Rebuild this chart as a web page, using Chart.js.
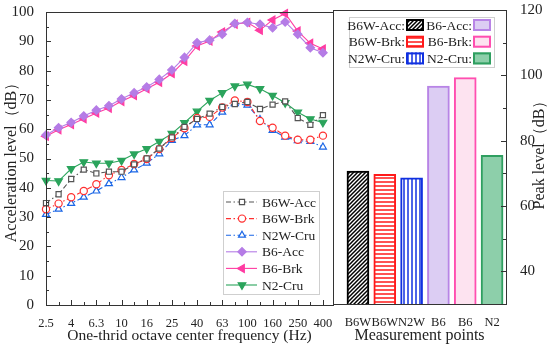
<!DOCTYPE html>
<html>
<head>
<meta charset="utf-8">
<script src="https://cdn.jsdelivr.net/npm/chart.js@4.4.1/dist/chart.umd.min.js"></script>
<style>
  html, body { margin: 0; padding: 0; background: #fff; }
  #wrap { position: relative; width: 550px; height: 345px; overflow: hidden; }
  #c1 { position: absolute; left: 0; top: 0; }
  #c2 { position: absolute; left: 330px; top: 0; }
</style>
</head>
<body>
<div id="wrap">
  <canvas id="c1" width="340" height="345"></canvas>
  <canvas id="c2" width="220" height="345"></canvas>
</div>
<script>
/* Terzband-Mittenfrequenzen (Hz) */
const freqLabels = ['2.5','3.15','4','5','6.3','8','10','12.5','16','20','25','31.5','40','50','63','80','100','125','160','200','250','315','400'];

/* Beschleunigungspegel in dB */
const b6wAcc = [34.8, 37.8, 43.0, 46.2, 44.9, 45.5, 45.5, 48.0, 50.0, 53.4, 57.2, 60.8, 63.5, 65.3, 67.6, 68.6, 69.3, 66.9, 68.4, 69.5, 63.8, 61.5, 64.8];
const b6wBrk = [32.7, 34.6, 36.8, 38.9, 41.2, 44.3, 46.1, 48.1, 49.8, 53.2, 57.0, 60.3, 63.8, 64.2, 67.4, 69.8, 69.3, 62.8, 60.5, 57.8, 56.4, 56.4, 57.8];
const n2wCru = [30.9, 32.7, 34.7, 36.8, 38.9, 41.4, 43.5, 46.1, 48.4, 51.6, 56.2, 57.8, 61.5, 61.5, 65.8, 68.7, 68.2, 63.3, 59.6, 57.3, 56.1, 55.8, 53.9];
const b6Acc  = [58.0, 60.5, 62.3, 64.5, 66.5, 68.0, 70.3, 72.4, 74.4, 77.0, 80.2, 84.5, 89.5, 90.4, 92.4, 96.1, 96.4, 95.8, 94.6, 96.6, 92.4, 87.8, 86.1];
const b6Brk  = [57.6, 59.8, 61.6, 63.6, 65.5, 67.2, 69.5, 71.5, 73.8, 76.0, 79.0, 83.2, 88.4, 90.1, 93.2, 95.8, 96.4, 93.8, 97.3, 99.5, 93.5, 89.3, 87.4];
const n2Cru  = [42.5, 42.3, 46.5, 48.8, 48.4, 48.4, 49.3, 51.5, 53.3, 55.8, 58.5, 62.2, 66.1, 69.8, 72.4, 74.7, 75.3, 73.8, 71.5, 69.0, 65.8, 63.5, 62.3];

/* Spitzenpegel je Messpunkt */
const peakLabels = ['B6W', 'B6W', 'N2W', 'B6', 'B6', 'N2'];
const peakNames  = ['B6W-Acc:', 'B6W-Brk:', 'N2W-Cru:', 'B6-Acc:', 'B6-Brk:', 'N2-Cru:'];
const peakValues = [70.7, 69.7, 68.6, 96.7, 99.3, 75.5];

const FONT = "'Liberation Serif', 'Times New Roman', serif";
const INK = '#222';

const toPts = arr => arr.map((v, i) => ({ x: i, y: v }));
const DASHDOT = [5, 2.5, 1.5, 2.5];

/* feste Achsbreite, ohne Zusatzrand für überstehende Beschriftungen */
const fixWidth = w => s => { s.width = w; s.paddingTop = 0; s.paddingBottom = 0; };

/* Rahmen + nach innen zeigende Ticks */
const innerTicks = {
  id: 'innerTicks',
  afterDraw(chart, args, opts) {
    const { ctx, chartArea: a } = chart;
    ctx.save();
    ctx.strokeStyle = '#333';
    ctx.lineWidth = 1;
    ctx.strokeRect(Math.round(a.left) + 0.5, Math.round(a.top) + 0.5, Math.round(a.right - a.left), Math.round(a.bottom - a.top));
    (opts.marks || []).forEach(m => {
      const sc = chart.scales[m.axis];
      for (let v = m.from; v <= m.to + 1e-9; v += m.step) {
        const major = Math.abs(((v - m.from) / m.major) - Math.round((v - m.from) / m.major)) < 1e-6;
        const len = major ? 5 : 3;
        const p = Math.round(sc.getPixelForValue(v)) + 0.5;
        ctx.beginPath();
        if (m.axis === 'x') { ctx.moveTo(p, a.bottom); ctx.lineTo(p, a.bottom - len); }
        else if (m.side === 'right') { ctx.moveTo(a.right, p); ctx.lineTo(a.right - len, p); }
        else { ctx.moveTo(a.left, p); ctx.lineTo(a.left + len, p); }
        ctx.stroke();
      }
    });
    ctx.restore();
  }
};

/* Legende links: Linie + Marker + Text */
const lineLegend = {
  id: 'lineLegend',
  afterDraw(chart, args, o) {
    if (!o.show) return;
    const ctx = chart.ctx;
    ctx.save();
    ctx.strokeStyle = '#cfcfcf';
    ctx.lineWidth = 1;
    ctx.strokeRect(o.x + 0.5, o.y + 0.5, o.w, o.h);
    ctx.font = `${o.size}px ${FONT}`;
    ctx.textBaseline = 'middle';
    chart.data.datasets.forEach((ds, i) => {
      const y = o.y + o.first + i * o.gap;
      ctx.strokeStyle = ds.borderColor;
      ctx.lineWidth = ds.borderWidth;
      ctx.setLineDash(ds.borderDash || []);
      ctx.beginPath(); ctx.moveTo(o.x + 3, y); ctx.lineTo(o.x + 34, y); ctx.stroke();
      ctx.setLineDash([]);
      ctx.fillStyle = ds.pointBackgroundColor;
      ctx.strokeStyle = ds.pointBorderColor;
      ctx.lineWidth = ds.pointBorderWidth;
      Chart.helpers.drawPoint(ctx, { pointStyle: ds.pointStyle, rotation: ds.pointRotation || 0, radius: ds.pointRadius, borderWidth: ds.pointBorderWidth }, o.x + 19, y);
      ctx.fillStyle = INK;
      ctx.fillText(ds.label, o.x + 39, y + 1);
    });
    ctx.restore();
  }
};

/* Schraffuren für die "W"-Balken */
function hatch(kind, color) {
  const s = 4;
  const c = document.createElement('canvas');
  c.width = s; c.height = s;
  const g = c.getContext('2d');
  g.fillStyle = '#fff'; g.fillRect(0, 0, s, s);
  g.strokeStyle = color; g.lineWidth = 1.5;
  g.beginPath();
  if (kind === 'diag') {
    g.moveTo(-1, s + 1); g.lineTo(s + 1, -1);
    g.moveTo(-1, 1); g.lineTo(1, -1);
    g.moveTo(s - 1, s + 1); g.lineTo(s + 1, s - 1);
  } else if (kind === 'horiz') {
    g.moveTo(0, s / 2); g.lineTo(s, s / 2);
  } else {
    g.moveTo(s / 2, 0); g.lineTo(s / 2, s);
  }
  g.stroke();
  return document.getElementById('c2').getContext('2d').createPattern(c, 'repeat');
}

const barFill   = [hatch('diag', '#000'), hatch('horiz', '#ff1a1a'), hatch('vert', '#1030e0'), '#dccdf3', '#fde3f0', '#8dcfaa'];
const barBorder = ['#000', '#ff1a1a', '#1030e0', '#b884e6', '#ff4fb0', '#2f9f60'];

/* Legende rechts: Text + Farbfeld, 2 Spalten */
const boxLegend = {
  id: 'boxLegend',
  afterDraw(chart, args, o) {
    const ctx = chart.ctx;
    ctx.save();
    ctx.strokeStyle = '#cfcfcf';
    ctx.lineWidth = 1;
    ctx.strokeRect(o.x + 0.5, o.y + 0.5, o.w, o.h);
    ctx.font = `${o.size}px ${FONT}`;
    ctx.textBaseline = 'middle';
    ctx.textAlign = 'right';
    peakNames.forEach((name, i) => {
      const col = Math.floor(i / 3), row = i % 3;
      const sx = o.cols[col];
      const y = o.y + o.first + row * o.gap;
      ctx.fillStyle = INK;
      ctx.fillText(name, sx - 1, y + 1);
      ctx.fillStyle = barFill[i];
      ctx.fillRect(sx, y - 6, o.sw, 12);
      ctx.strokeStyle = barBorder[i];
      ctx.lineWidth = 2;
      ctx.strokeRect(sx + 1, y - 5, o.sw - 2, 10);
    });
    ctx.restore();
  }
};

/* y-Titel rechts, von unten nach oben gelesen */
const rightTitle = {
  id: 'rightTitle',
  afterDraw(chart, args, o) {
    const ctx = chart.ctx;
    const a = chart.chartArea;
    ctx.save();
    ctx.translate(o.x, (a.top + a.bottom) / 2 - 6);
    ctx.rotate(-Math.PI / 2);
    ctx.font = `${o.size}px ${FONT}`;
    ctx.fillStyle = INK;
    ctx.textAlign = 'center';
    ctx.textBaseline = 'middle';
    ctx.fillText(o.text, 0, 0);
    ctx.restore();
  }
};

const lineDs = (label, data, color, style, opts) => Object.assign({
  label, data: toPts(data), borderColor: color, borderWidth: 1.1,
  pointStyle: style, pointRadius: 3.6, pointBorderColor: color, pointBorderWidth: 1.2,
  pointBackgroundColor: '#fff', tension: 0, clip: false
}, opts);

new Chart(document.getElementById('c1'), {
  type: 'line',
  data: {
    datasets: [
      lineDs('B6W-Acc', b6wAcc, '#555', 'rect', { borderDash: DASHDOT }),
      lineDs('B6W-Brk', b6wBrk, '#ff3030', 'circle', { borderDash: DASHDOT }),
      lineDs('N2W-Cru', n2wCru, '#1a66e6', 'triangle', { borderDash: DASHDOT, pointRadius: 4 }),
      lineDs('B6-Acc', b6Acc, '#b57ce6', 'rectRot', { pointBackgroundColor: '#b57ce6', pointRadius: 4.2 }),
      lineDs('B6-Brk', b6Brk, '#ff3ca2', 'triangle', { pointBackgroundColor: '#ff3ca2', pointRotation: -90, pointRadius: 4.6 }),
      lineDs('N2-Cru', n2Cru, '#2ba45c', 'triangle', { pointBackgroundColor: '#2ba45c', pointRotation: 180, pointRadius: 4.4 }),
    ],
  },
  options: {
    responsive: false, animation: false,
    layout: { padding: { top: 12, right: 7, left: 0, bottom: 0 } },
    plugins: {
      legend: { display: false }, tooltip: { enabled: false },
      lineLegend: { show: true, x: 223, y: 191, w: 96, h: 103, first: 11, gap: 16.6, size: 13.5 },
      innerTicks: { marks: [
        { axis: 'x', from: 0, to: 22, step: 1, major: 2 },
        { axis: 'y', from: 0, to: 100, step: 5, major: 10 },
      ] },
    },
    scales: {
      x: {
        type: 'linear', min: 0, max: 22.8,
        afterFit: s => { s.height = 40; },
        /* nur jede zweite Terz beschriften */
        afterBuildTicks: s => { s.ticks = freqLabels.map((_, i) => ({ value: i })).filter(t => t.value % 2 === 0); },
        grid: { display: false }, border: { display: false },
        ticks: { autoSkip: false, maxRotation: 0, padding: 3, color: INK,
                 font: { family: FONT, size: 12.5 }, callback: v => freqLabels[v] ?? '' },
        title: { display: true, text: 'One-thrid octave center frequency (Hz)', color: INK,
                 font: { family: FONT, size: 15.5 }, padding: { top: 0, bottom: 0 } },
      },
      y: {
        min: 0, max: 100,
        afterFit: fixWidth(46),
        grid: { display: false }, border: { display: false },
        ticks: { stepSize: 10, padding: 4, color: INK, font: { family: FONT, size: 15 } },
        title: { display: true, text: 'Acceleration level（dB）', color: INK,
                 font: { family: FONT, size: 16 }, padding: { top: 2, bottom: 0 } },
      },
    },
  },
  plugins: [innerTicks, lineLegend],
});

new Chart(document.getElementById('c2'), {
  type: 'bar',
  data: {
    datasets: [{
      label: 'Peak level',
      data: peakValues.map((v, i) => ({ x: i + 1, y: v })),
      backgroundColor: barFill, borderColor: barBorder, borderWidth: 2,
      barThickness: 22,
    }],
  },
  options: {
    responsive: false, animation: false,
    layout: { padding: { top: 10, right: 0, left: 3, bottom: 0 } },
    plugins: {
      legend: { display: false }, tooltip: { enabled: false },
      boxLegend: { x: 19, y: 17, w: 145, h: 50, first: 8, gap: 16.7, size: 13.5, cols: [76, 143], sw: 18 },
      rightTitle: { x: 210, size: 16, text: 'Peak level（dB）' },
      innerTicks: { marks: [ { axis: 'y', side: 'right', from: 40, to: 120, step: 10, major: 20 } ] },
    },
    scales: {
      x: {
        type: 'linear', min: 0.07, max: 6.52, offset: false,
        afterFit: s => { s.height = 41; },
        afterBuildTicks: s => { s.ticks = peakLabels.map((_, i) => ({ value: i + 1 })); },
        grid: { display: false }, border: { display: false },
        ticks: { autoSkip: false, maxRotation: 0, padding: 3, color: INK,
                 font: { family: FONT, size: 12.5 },
                 callback: v => peakLabels[v - 1] ?? '' },
        title: { display: true, text: 'Measurement points', color: INK,
                 font: { family: FONT, size: 16 }, padding: { top: 0, bottom: 0 } },
      },
      y: {
        position: 'right', min: 30, max: 120,
        afterFit: fixWidth(44),
        grid: { display: false }, border: { display: false },
        ticks: { stepSize: 20, padding: 6, color: INK, font: { family: FONT, size: 15 },
                 callback: v => (v % 20 === 0 ? v : '') },
      },
    },
  },
  plugins: [innerTicks, boxLegend, rightTitle],
});
</script>
</body>
</html>
